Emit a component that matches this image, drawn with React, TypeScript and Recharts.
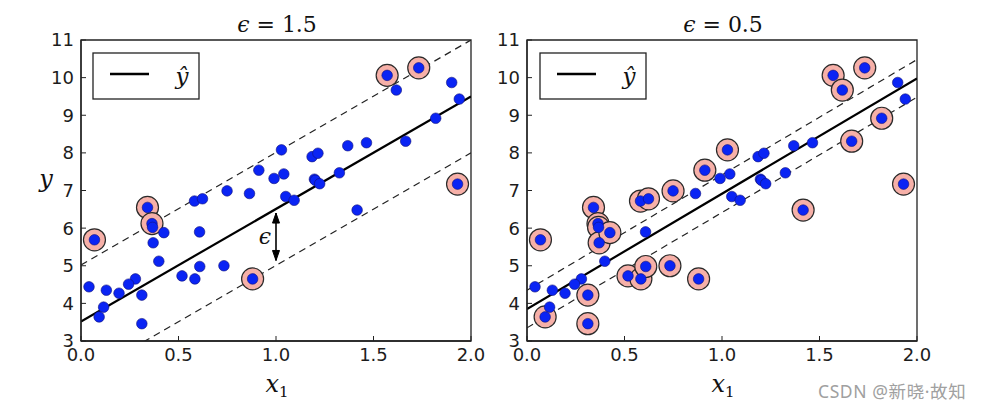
import React from 'react';
import { ComposedChart, XAxis, YAxis, Line, Scatter, ReferenceArea } from 'recharts';

// ---- data ----
const xValues = [0.749, 1.901, 1.464, 1.197, 0.312, 0.312, 0.116, 1.732, 1.202, 1.416, 0.041, 1.940, 1.665, 0.425, 0.364, 0.367, 0.608, 1.050, 0.864, 0.582, 1.224, 0.279, 0.584, 0.733, 0.912, 1.570, 0.399, 1.028, 1.185, 0.093, 1.215, 0.341, 0.130, 1.931, 1.617, 0.609, 0.195, 1.368, 0.880, 0.244, 0.990, 0.069, 1.819, 0.518, 1.325, 0.623, 1.040, 1.093, 0.370];
const yValues = [6.99, 9.87, 8.27, 7.30, 4.22, 3.46, 3.90, 10.26, 7.27, 6.48, 4.44, 9.43, 8.31, 5.88, 6.12, 6.02, 5.90, 6.84, 6.92, 6.72, 7.18, 4.65, 4.65, 5.00, 7.54, 10.06, 5.12, 8.08, 7.90, 3.64, 7.99, 6.55, 4.35, 7.17, 9.67, 4.98, 4.27, 8.19, 4.65, 4.51, 7.32, 5.69, 8.92, 4.73, 7.47, 6.78, 7.44, 6.74, 5.61];

// indices (into the arrays above) of circled support vectors
const supportLeft = [41, 31, 14, 38, 25, 7, 33];
const supportRight = [41, 29, 4, 5, 31, 14, 15, 48, 13, 43, 19, 22, 35, 45, 23, 0, 38, 24, 27, 9, 25, 34, 12, 7, 42, 33];

// fitted lines (endpoints at x = 0 and x = 2)
const fitLeft = [3.52, 9.50];
const upperLeft = [5.02, 11.0];
const lowerLeft = [2.02, 8.0];
const fitRight = [3.85, 9.98];
const upperRight = [4.35, 10.48];
const lowerRight = [3.35, 9.48];
const lineXs = [0, 2];

// epsilon arrow on the left chart
const arrowX = 1.0;
const arrowYs = [6.40, 5.14];

const xTicks = [0, 0.5, 1, 1.5, 2];
const yTicks = [3, 4, 5, 6, 7, 8, 9, 10, 11];
const titles = ['1.5', '0.5'];

// ---- helpers ----
const points = xValues.map((x, i) => ({ x, y: yValues[i] }));
const pick = (idx: number[]) => idx.map((i) => points[i]);
const toLine = (ys: number[]) => lineXs.map((x, i) => ({ x, y: ys[i] }));
const arrowData = arrowYs.map((y) => ({ x: arrowX, y }));

const FRAME = '#222';
const TL = 5;
const TICK_FONT = { fontFamily: 'DejaVu Sans', fontSize: 18, fill: '#1c1c1c' } as const;
const M = 7;

const BottomTick = (p: any) => (
  <g>
    <line x1={p.x} x2={p.x} y1={p.y - M} y2={p.y - M - TL} stroke={FRAME} strokeWidth={1} />
    <text x={p.x} y={p.y} dy="0.72em" textAnchor="middle" {...TICK_FONT}>
      {Number(p.payload.value).toFixed(1)}
    </text>
  </g>
);
const LeftTick = (p: any) => (
  <g>
    <line x1={p.x + M} x2={p.x + M + TL} y1={p.y} y2={p.y} stroke={FRAME} strokeWidth={1} />
    <text x={p.x} y={p.y} dy="0.36em" textAnchor="end" {...TICK_FONT}>
      {p.payload.value}
    </text>
  </g>
);
const TopTick = (p: any) => (
  <line x1={p.x} x2={p.x} y1={p.y} y2={p.y + TL} stroke={FRAME} strokeWidth={1} />
);
const RightTick = (p: any) => (
  <line x1={p.x} x2={p.x - TL} y1={p.y} y2={p.y} stroke={FRAME} strokeWidth={1} />
);

const SvShape = (p: any) => (
  <circle cx={p.cx} cy={p.cy} r={11} fill="#f6b0a8" stroke="#2a2a2a" strokeWidth={1.2} />
);
const DotShape = (p: any) => (
  <circle cx={p.cx} cy={p.cy} r={5.3} fill="#0a24f4" stroke="#10107a" strokeWidth={0.6} />
);
const ArrowHead = (p: any) => {
  const up = p.index === 0;
  const s = up ? 1 : -1;
  const d = `M${p.cx},${p.cy} L${p.cx - 3.5},${p.cy + s * 10} L${p.cx + 3.5},${p.cy + s * 10} Z`;
  return <path key={`ah-${p.index}`} d={d} fill="#000" stroke="#000" strokeWidth={1} />;
};

type PanelProps = {
  width: number;
  yAxisWidth: number;
  right: number;
  fit: number[];
  upper: number[];
  lower: number[];
  sv: number[];
  arrow?: boolean;
};

const Panel = ({ width, yAxisWidth, right, fit, upper, lower, sv, arrow }: PanelProps) => (
  <ComposedChart width={width} height={409} margin={{ top: 39, right: right - 1, bottom: 0, left: 0 }}>
    <XAxis
      xAxisId="b"
      type="number"
      dataKey="x"
      domain={[0, 2]}
      ticks={xTicks}
      interval={0}
      allowDataOverflow
      height={68}
      tickSize={0}
      tickMargin={M}
      tickLine={false}
      axisLine={{ stroke: FRAME, strokeWidth: 1.3 }}
      tick={BottomTick}
    />
    <XAxis
      xAxisId="t"
      orientation="top"
      type="number"
      dataKey="x"
      domain={[0, 2]}
      ticks={xTicks}
      interval={0}
      height={1}
      tickSize={0}
      tickMargin={0}
      tickLine={false}
      axisLine={false}
      tick={TopTick}
    />
    <YAxis
      yAxisId="l"
      type="number"
      dataKey="y"
      domain={[3, 11]}
      ticks={yTicks}
      interval={0}
      allowDataOverflow
      width={yAxisWidth}
      tickSize={0}
      tickMargin={M}
      tickLine={false}
      axisLine={{ stroke: FRAME, strokeWidth: 1.3 }}
      tick={LeftTick}
    />
    <YAxis
      yAxisId="r"
      orientation="right"
      type="number"
      domain={[3, 11]}
      ticks={yTicks}
      interval={0}
      width={1}
      tickSize={0}
      tickMargin={0}
      tickLine={false}
      axisLine={false}
      tick={RightTick}
    />
    <ReferenceArea
      xAxisId="b"
      yAxisId="l"
      x1={0}
      x2={2}
      y1={3}
      y2={11}
      fill="none"
      fillOpacity={0}
      stroke={FRAME}
      strokeWidth={1.3}
      strokeOpacity={1}
      ifOverflow="visible"
    />
    <Line xAxisId="b" yAxisId="l" data={toLine(fit)} dataKey="y" stroke="#000" strokeWidth={2.2} dot={false} isAnimationActive={false} />
    <Line xAxisId="b" yAxisId="l" data={toLine(upper)} dataKey="y" stroke="#222" strokeWidth={1.2} strokeDasharray="7 5" dot={false} isAnimationActive={false} />
    <Line xAxisId="b" yAxisId="l" data={toLine(lower)} dataKey="y" stroke="#222" strokeWidth={1.2} strokeDasharray="7 5" dot={false} isAnimationActive={false} />
    {arrow && (
      <Line xAxisId="b" yAxisId="l" data={arrowData} dataKey="y" stroke="#000" strokeWidth={1.6} dot={ArrowHead} isAnimationActive={false} />
    )}
    <Scatter xAxisId="b" yAxisId="l" data={pick(sv)} dataKey="y" shape={SvShape} isAnimationActive={false} />
    <Scatter xAxisId="b" yAxisId="l" data={points} dataKey="y" shape={DotShape} isAnimationActive={false} />
  </ComposedChart>
);

const SERIF = 'DejaVu Serif';

const LegendBox = ({ x, lineX, hatX }: { x: number; lineX: number; hatX: number }) => (
  <g>
    <rect x={x} y={53} width={106} height={46} fill="#fff" stroke={FRAME} strokeWidth={1.3} />
    <line x1={lineX} x2={lineX + 39} y1={74} y2={74} stroke="#000" strokeWidth={2.6} />
    <text x={hatX} y={84} textAnchor="middle" fontFamily={SERIF} fontStyle="italic" fontSize={23} fill="#111">
      ŷ
    </text>
  </g>
);

export default function App() {
  return (
    <div style={{ position: 'absolute', left: 0, top: 0, width: 983, height: 409, background: '#fff' }}>
      <div style={{ position: 'absolute', left: 0, top: 0 }}>
        <Panel width={490} yAxisWidth={81} right={19} fit={fitLeft} upper={upperLeft} lower={lowerLeft} sv={supportLeft} arrow />
      </div>
      <div style={{ position: 'absolute', left: 490, top: 0 }}>
        <Panel width={493} yAxisWidth={37} right={66} fit={fitRight} upper={upperRight} lower={lowerRight} sv={supportRight} />
      </div>
      <svg width={983} height={409} style={{ position: 'absolute', left: 0, top: 0, pointerEvents: 'none' }}>
        {[277, 723].map((cx, i) => (
          <text key={cx} x={cx} y={32} textAnchor="middle" fontFamily={SERIF} fontSize={22} fill="#111">
            <tspan fontStyle="italic">ϵ</tspan>
            <tspan> = </tspan>
            <tspan>{titles[i]}</tspan>
          </text>
        ))}
        <text x={46} y={187} textAnchor="middle" fontFamily={SERIF} fontStyle="italic" fontSize={24} fill="#111">
          y
        </text>
        {[277, 723].map((cx) => (
          <text key={cx} x={cx} y={392} textAnchor="middle" fontFamily={SERIF} fontSize={24} fill="#111">
            <tspan fontStyle="italic">x</tspan>
            <tspan fontSize={15} dy={5}>1</tspan>
          </text>
        ))}
        <text x={265} y={244} textAnchor="middle" fontFamily={SERIF} fontStyle="italic" fontSize={22} fill="#111">
          ϵ
        </text>
        <LegendBox x={93} lineX={110} hatX={182} />
        <LegendBox x={540} lineX={557} hatX={629} />
        <text x={818} y={398} fontFamily="'Noto Sans', 'Noto Sans CJK SC'" fontSize={17.5} letterSpacing={0.6} fill="#a0a0a0">
          CSDN @新晓·故知
        </text>
      </svg>
    </div>
  );
}
